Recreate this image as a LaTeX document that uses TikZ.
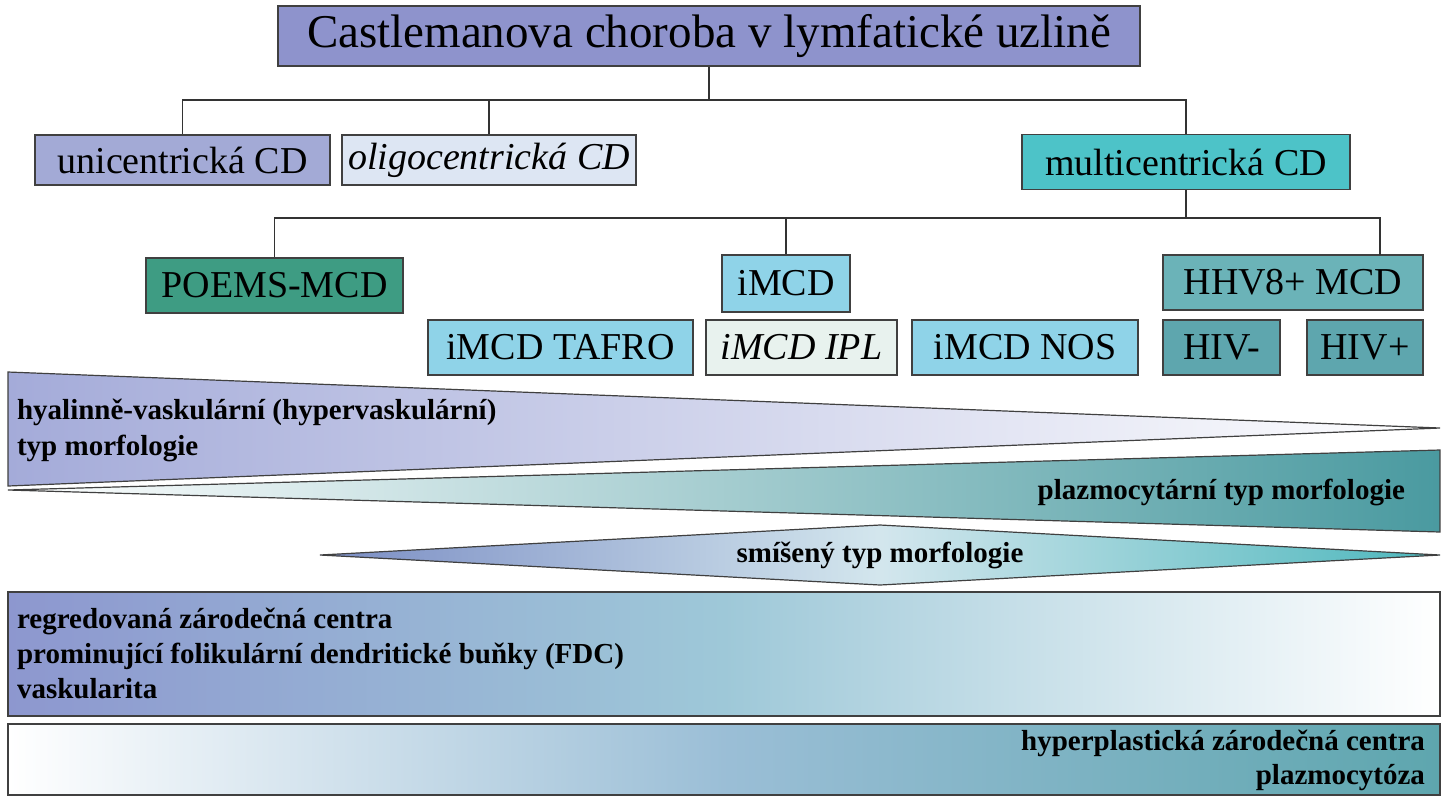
\documentclass[tikz,border=0pt]{standalone}
\usepackage{fontspec}
\setmainfont{Liberation Serif}
\begin{document}
\begin{tikzpicture}[x=0.5pt,y=-0.5pt,
 bx/.style={draw=black!75,line width=0.6pt,anchor=north west,inner sep=0pt,font=\fontsize{19}{21}\selectfont,align=left},
 ln/.style={draw=black!80,line width=0.6pt},
 bd/.style={font=\bfseries\fontsize{14.5}{17}\selectfont}]
\useasboundingbox (0,0) rectangle (1445,800);
\definecolor{cT}{HTML}{8E93CC}\definecolor{cU}{HTML}{A3AAD6}\definecolor{cO}{HTML}{DDE6F3}
\definecolor{cM}{HTML}{4DC3C8}\definecolor{cP}{HTML}{3E9C83}\definecolor{cI}{HTML}{8FD3E8}
\definecolor{cL}{HTML}{E8F2EE}\definecolor{cH}{HTML}{6BB3B8}\definecolor{cV}{HTML}{5EA6AE}
\definecolor{gA}{HTML}{A4ABD9}\definecolor{gB}{HTML}{4A9AA0}\definecolor{gC}{HTML}{7A8DC4}
\definecolor{gD}{HTML}{8D97CF}\definecolor{gE}{HTML}{9EC8D8}
% boxes
\node[bx,fill=cT,minimum width=431pt,minimum height=30pt,font=\fontsize{23.5}{26}\selectfont,anchor=center] (t) at (709,36) {Castlemanova choroba v lymfatické uzlině};
\node[bx,fill=cU,minimum width=147.5pt,minimum height=25pt,anchor=center] (u) at (182.5,160) {unicentrická CD};
\node[bx,fill=cO,minimum width=147pt,minimum height=25pt,anchor=center] (o) at (489,160) {\itshape oligocentrická CD};
\node[bx,fill=cM,minimum width=164pt,minimum height=27.5pt,anchor=center] (m) at (1186,162) {multicentrická CD};
\node[bx,fill=cP,minimum width=128.5pt,minimum height=27.5pt,anchor=center] (p) at (274.5,285.5) {POEMS-MCD};
\node[bx,fill=cI,minimum width=64pt,minimum height=28.5pt,anchor=center] (i) at (786,283.5) {iMCD};
\node[bx,fill=cI,minimum width=132.5pt,minimum height=27.5pt,anchor=center] (ta) at (560.5,347.5) {iMCD TAFRO};
\node[bx,fill=cL,minimum width=95.5pt,minimum height=27.5pt,anchor=center] (ip) at (801.5,347.5) {\itshape iMCD IPL};
\node[bx,fill=cI,minimum width=113pt,minimum height=27.5pt,anchor=center] (no) at (1025,347.5) {iMCD NOS};
\node[bx,fill=cH,minimum width=130pt,minimum height=27.5pt,anchor=center] (h) at (1293,282.5) {HHV8+ MCD};
\node[bx,fill=cV,minimum width=58.5pt,minimum height=27.5pt,anchor=center] (hm) at (1221.5,347.5) {HIV-};
\node[bx,fill=cV,minimum width=58pt,minimum height=27.5pt,anchor=center] (hp) at (1365,347.5) {HIV+};
% tree
\coordinate (j1) at (707,100);
\draw[ln] (t.south) -- (t.south|-j1);
\draw[ln] (u.north) -- (u.north|-j1) -- (m.north|-j1) -- (m.north);
\draw[ln] (o.north) -- (o.north|-j1);
\coordinate (j2) at (0,218);
\draw[ln] (m.south) -- (m.south|-j2);
\draw[ln] (p.north) -- (p.north|-j2) -- (1380,218) -- (1380,255);
\draw[ln] (i.north) -- (i.north|-j2);
% shapes
\shade[left color=gA,right color=white,draw=black!75,line width=0.6pt] (8,372) -- (1440,428) -- (8,486) -- cycle;
\node[bd,anchor=west,align=left] (ty) at (10,430) {hyalinně-vaskulární (hypervaskulární)\\[1pt]typ morfologie};
\shade[left color=white,right color=gB,draw=black!75,line width=0.6pt] (8,490) -- (1440,450) -- (1440,532) -- cycle;
\node[bd,anchor=east] (pl) at (1412,492) {plazmocytární typ morfologie};
\shade[left color=gC,right color=cM!70!gB,middle color=white!55!gE,draw=black!75,line width=0.6pt] (320,555) -- (880,525) -- (1440,555) -- (880,585) -- cycle;
\node[bd] (sm) at (880,555) {smíšený typ morfologie};
\shade[left color=gD,right color=white,middle color=gE,draw=black!75,line width=0.6pt] (8,592) rectangle (1440,716);
\node[bd,anchor=west,align=left] (r1) at (10,653) {regredovaná zárodečná centra\\[0.5pt]prominující folikulární dendritické buňky (FDC)\\[0.5pt]vaskularita};
\shade[left color=white,right color=cV,middle color=gE!80!gD,draw=black!75,line width=0.6pt] (8,724) rectangle (1440,795);
\node[bd,anchor=east,align=right] (r2) at (1432,760) {hyperplastická zárodečná centra\\plazmocytóza};
\end{tikzpicture}
\end{document}
